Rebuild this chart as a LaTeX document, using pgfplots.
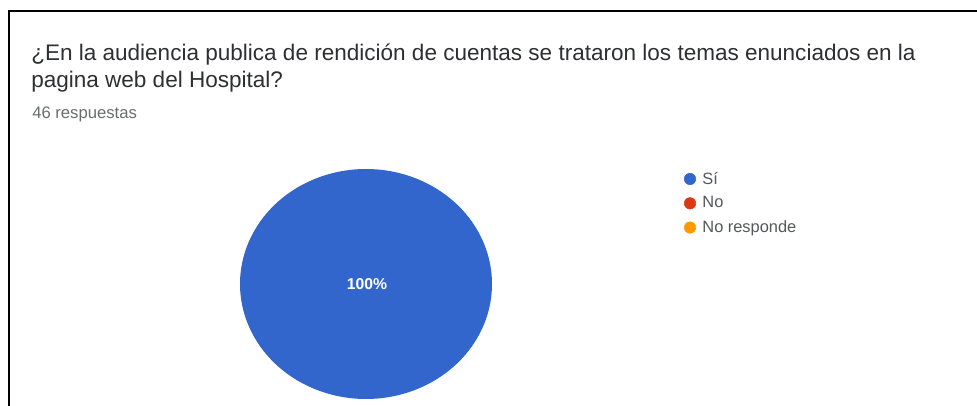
\documentclass[border=0pt]{standalone}
\usepackage{fontspec}
\setmainfont{Liberation Sans}
\usepackage{pgfplots}
\usepackage{pgfplotstable}
\pgfplotsset{compat=1.18}

\definecolor{gblue}{HTML}{3366CC}
\definecolor{gred}{HTML}{DC3912}
\definecolor{gorange}{HTML}{FF9900}
\definecolor{titlegray}{HTML}{2E2F33}
\definecolor{subgray}{HTML}{6A6C70}
\definecolor{leggray}{HTML}{55575B}

% respuestas por categoria
\pgfplotstableread{
label value
Si 46
No 0
NoResponde 0
}\piedata

\pgfplotstablegetelem{0}{value}\of\piedata \let\vSi\pgfplotsretval
\pgfplotstablegetelem{1}{value}\of\piedata \let\vNo\pgfplotsretval
\pgfplotstablegetelem{2}{value}\of\piedata \let\vNR\pgfplotsretval
\pgfmathsetmacro{\total}{\vSi+\vNo+\vNR}
\pgfmathsetmacro{\fSi}{\vSi/\total}
\pgfmathsetmacro{\aSi}{360*\fSi}
\pgfmathtruncatemacro{\pSi}{round(100*\fSi)}

\begin{document}
\begin{tikzpicture}
\begin{axis}[
    at={(0,0)}, anchor=south west,
    scale only axis,
    width=732.75pt, height=304.5pt,
    xmin=0, xmax=977, ymin=0, ymax=406,
    hide axis, clip=false,
    legend style={draw=none, fill=none, at={(axis cs:684,237)}, anchor=north west,
        font=\fontsize{12.3}{14}\selectfont\color{leggray},
        row sep=4pt, inner sep=0pt},
    legend cell align=left,
]
% marco
\draw[black, line width=1.6pt] (axis cs:9,0) -- (axis cs:9,395) -- (axis cs:977,395);

% sector "Si" (100%)
\addplot[fill=gblue, draw=none, domain=90-\aSi:90, samples=241, variable=\t, forget plot]
    ({366+126*cos(\t)}, {122+115*sin(\t)}) -- cycle;

\addlegendimage{only marks, mark=*, mark size=4.3pt, gblue}
\addlegendentry{\hspace{3pt}Sí}
\addlegendimage{only marks, mark=*, mark size=4.3pt, gred}
\addlegendentry{\hspace{3pt}No}
\addlegendimage{only marks, mark=*, mark size=4.3pt, gorange}
\addlegendentry{\hspace{3pt}No responde}

\node[white, font=\fontsize{11.8}{13}\selectfont\bfseries] at (axis cs:367,122) {\pSi\%};

\node[anchor=base west, inner sep=0pt, titlegray, font=\fontsize{16.9}{18}\selectfont] at (axis cs:31,345) {¿En la audiencia publica de rendición de cuentas se trataron los temas enunciados en la};
\node[anchor=base west, inner sep=0pt, titlegray, font=\fontsize{16.9}{18}\selectfont] at (axis cs:31,318) {pagina web del Hospital?};
\node[anchor=base west, inner sep=0pt, subgray, font=\fontsize{12.5}{13}\selectfont] at (axis cs:32,287) {46 respuestas};
\end{axis}
\pgfresetboundingbox
\useasboundingbox (0,0) rectangle (732.75pt,304.5pt);
\end{tikzpicture}
\end{document}
